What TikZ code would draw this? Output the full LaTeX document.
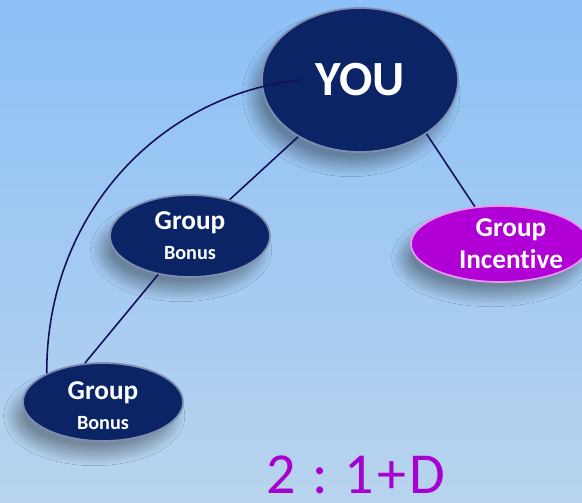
\documentclass[tikz,border=0pt]{standalone}
\usepackage{fontspec}
\setmainfont{Carlito}[Ligatures={NoCommon}]
\usetikzlibrary{shapes.geometric,shadows.blur}

\definecolor{bgtop}{HTML}{8CC0F6}
\definecolor{bgbot}{HTML}{B8D4EE}
\definecolor{navyfill}{HTML}{0A2466}
\definecolor{navyrim}{HTML}{7F8EB2}
\definecolor{purplefill}{HTML}{B000D6}
\definecolor{purplerim}{HTML}{E49AF2}
\definecolor{ratiotext}{HTML}{A800D0}
\definecolor{linkcol}{HTML}{140E5C}

\tikzset{
    bubble/.style={ellipse, inner sep=0pt, fill=navyfill, draw=navyrim,
        line width=1pt, text=white, font=\bfseries, align=center,
        blur shadow={shadow xshift=-5pt, shadow yshift=-8pt,
            shadow blur radius=6pt, shadow blur steps=30, shadow opacity=35}},
    incentbubble/.style={bubble, fill=purplefill, draw=purplerim},
    link/.style={draw=linkcol, line width=0.9pt}
}

\begin{document}
\begin{tikzpicture}

    % Background (fixes the page size too)
    \shade[top color=bgtop, bottom color=bgbot] (0,0) rectangle (11.64,-10.04);
    \useasboundingbox (0,0) rectangle (11.64,-10.04);

    % Bubbles
    \node[bubble, minimum width=3.92cm, minimum height=2.88cm] (you) at (7.2,-1.6)
        {\fontsize{28}{30}\selectfont YOU};
    \node[bubble, minimum width=3.2cm, minimum height=1.64cm] (bonusa) at (3.8,-4.72)
        {\fontsize{15.5}{17}\selectfont Group\\[5pt]\fontsize{11.5}{13}\selectfont Bonus};
    \node[incentbubble, minimum width=2.92cm, minimum height=1.52cm] (incent) at (10.0,-4.88)
        {\fontsize{15.5}{17}\selectfont \hspace*{0.44cm}Group\\[4pt]\fontsize{15.5}{17}\selectfont \hspace*{0.44cm}Incentive};
    \node[bubble, minimum width=3.2cm, minimum height=1.56cm] (bonusb) at (2.06,-8.04)
        {\rule{0pt}{14pt}\fontsize{15.5}{17}\selectfont Group\\[5pt]\fontsize{11.5}{13}\selectfont Bonus};

    % Connectors
    \draw[link] (you) -- (bonusa);
    \draw[link] (you.-39) -- (incent.124);
    \draw[link] (bonusa) -- (bonusb.115);
    \coordinate (arcstart) at ([xshift=-1.2cm]you.center);
    \draw[link] (arcstart) .. controls (3.2,-1.9) and (0.92,-4.28) .. (bonusb.153);

    % Ratio
    \node[text=ratiotext, inner sep=0pt, font=\fontsize{33}{36}\selectfont] (ratio) at (7.12,-9.5)
        {2\hspace{0.28em}:\hspace{0.28em}1\hspace{0.06em}+\hspace{0.06em}D};

\end{tikzpicture}
\end{document}
